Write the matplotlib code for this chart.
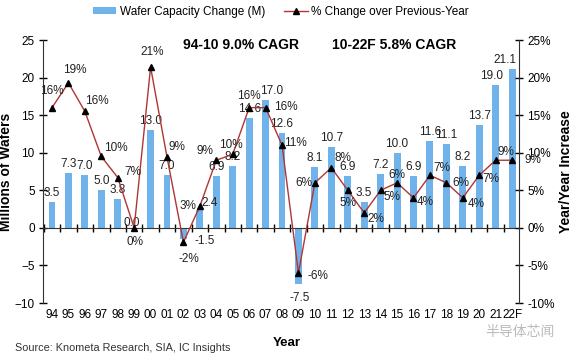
import matplotlib
matplotlib.use("Agg")
import matplotlib.pyplot as plt
from matplotlib.ticker import FuncFormatter

plt.rcParams['font.family'] = ['Liberation Sans', 'DejaVu Sans']

years = ['94', '95', '96', '97', '98', '99', '00', '01', '02', '03', '04', '05', '06', '07',
         '08', '09', '10', '11', '12', '13', '14', '15', '16', '17', '18', '19', '20', '21', '22F']
capacity_change = [3.5, 7.3, 7.0, 5.0, 3.8, 0.0, 13.0, 7.0, -1.5, 2.4, 6.9, 8.2, 14.6, 17.0,
                   12.6, -7.5, 8.1, 10.7, 6.9, 3.5, 7.2, 10.0, 6.9, 11.6, 11.1, 8.2, 13.7, 19.0, 21.1]
pct_change = [16.0, 19.3, 15.5, 9.5, 6.7, 0.0, 21.4, 9.4, -1.9, 2.9, 9.0, 9.8, 16.0, 16.0,
              11.0, -6.0, 6.0, 8.0, 5.0, 2.0, 5.0, 6.0, 4.0, 7.0, 6.0, 4.0, 7.0, 9.0, 9.0]
pct_labels = ['16%', '19%', '16%', '10%', '7%', '0%', '21%', '9%', '-2%', '3%', '9%', '10%', '16%',
              '16%', '11%', '-6%', '6%', '8%', '5%', '2%', '5%', '6%', '4%', '7%', '6%', '4%', '7%',
              '9%', '9%']
left_ticks = [-10, -5, 0, 5, 10, 15, 20, 25]
right_ticks = [-10, -5, 0, 5, 10, 15, 20, 25]

# label offsets (pixels, center of text relative to marker)
pct_offsets = [(0, 17), (6, 13), (12, 10), (15, 8), (15, 6), (1, -14), (2, 15), (10, 10),
               (5, -17), (-12, 0), (-11, 9), (-2, 9), (0, 12), (20, 1), (13, 2), (19, -3),
               (-11, 0), (12, 10), (0, -13), (12, -6), (11, -7), (0, 8), (12, -4), (12, 7),
               (15, 0), (13, -6), (12, -4), (10, 8), (21, 0)]
bar_label_overrides = {8: (21, -2), 9: (10, 7), 13: (6, 9), 27: (-4, 9), 28: (-7, 9), 15: (1, -14),
                       4: (0, 9), 5: (-2, 5)}

BAR_COLOR = '#6FB3EA'
LINE_COLOR = '#B03533'

fig = plt.figure(figsize=(5.73, 3.54), dpi=100)
ax = fig.add_axes([0.075, 0.144, 0.831, 0.743])
ax2 = ax.twinx()

x = list(range(len(years)))
ax.bar(x, capacity_change, width=0.42, color=BAR_COLOR, zorder=2,
       label='Wafer Capacity Change (M)')
ax.set_ylim(-10, 25)
ax.set_xlim(-0.55, len(years) - 0.57)
ax.set_yticks(left_ticks)
ax.tick_params(axis='y', direction='inout', length=6, width=1, labelsize=8.5, pad=3)
ax.spines['top'].set_visible(False)
ax.spines['right'].set_visible(False)
ax.spines['bottom'].set_position(('data', 0))
ax.spines['left'].set_color('#333333')
ax.spines['bottom'].set_color('#333333')
ax.set_xticks([i + 0.5 for i in x[:-1]] + [-0.5])
ax.tick_params(axis='x', direction='inout', length=6, width=1, labelbottom=False)

sec = ax.secondary_xaxis('bottom')
sec.set_xticks(x)
sec.set_xticklabels(years)
sec.tick_params(length=0, labelsize=8.5, pad=4)
sec.spines['bottom'].set_visible(False)

ax2.plot(x, pct_change, color=LINE_COLOR, linewidth=1, marker='^', markersize=5,
         markerfacecolor='black', markeredgecolor='black', zorder=3,
         label='% Change over Previous-Year')
ax2.set_ylim(-10, 25)
ax2.set_yticks(right_ticks)
ax2.yaxis.set_major_formatter(FuncFormatter(lambda v, p: f'{int(v)}%'))
ax2.tick_params(axis='y', direction='inout', length=6, width=1, labelsize=8.5, pad=3)
for s in ['top', 'left', 'bottom']:
    ax2.spines[s].set_visible(False)
ax2.spines['right'].set_color('#333333')

# bar labels
for i, v in enumerate(capacity_change):
    if i in bar_label_overrides:
        dx, dy = bar_label_overrides[i]
    elif v < 0:
        dx, dy = (0, -14)
    else:
        dx, dy = (0, 9)
    ax.annotate(f'{v:.1f}', (i, v), xytext=(dx, dy), textcoords='offset pixels',
                ha='center', va='center', fontsize=8.5, color='#222222', zorder=5)

# pct labels
for i, (v, lab) in enumerate(zip(pct_change, pct_labels)):
    dx, dy = pct_offsets[i]
    ax2.annotate(lab, (i, v), xytext=(dx, dy), textcoords='offset pixels',
                 ha='center', va='center', fontsize=8.5, color='#222222', zorder=5,
                 annotation_clip=False)

ax.set_ylabel('Millions of Wafers', fontsize=10, fontweight='bold')
ax.yaxis.set_label_coords(-0.062, 0.5)
ax2.set_ylabel('Year/Year Increase', fontsize=10, fontweight='bold')
ax2.yaxis.set_label_coords(1.084, 0.5)

fig.text(0.42, 0.873, '94-10 9.0% CAGR', fontsize=10, fontweight='bold', ha='center', va='center')
fig.text(0.688, 0.873, '10-22F 5.8% CAGR', fontsize=10, fontweight='bold', ha='center', va='center')
fig.text(0.50, 0.031, 'Year', fontsize=9.5, fontweight='bold', ha='center', va='center')
fig.text(0.026, 0.017, 'Source: Knometa Research, SIA, IC Insights', fontsize=7.8,
         ha='left', va='center', color='#333333')
fig.text(0.907, 0.062, '半导体芯闻', fontsize=10, ha='center', va='center', color='#BBBBBB',
         family=['Noto Sans CJK SC', 'DejaVu Sans'])

h1, l1 = ax.get_legend_handles_labels()
h2, l2 = ax2.get_legend_handles_labels()
fig.legend(h1 + h2, l1 + l2, loc='center', bbox_to_anchor=(0.49, 0.966), ncol=2, frameon=False,
           fontsize=8.5, handlelength=2.0, handleheight=0.5, columnspacing=1.6, handletextpad=0.3)

fig.savefig('out.png', dpi=100)
